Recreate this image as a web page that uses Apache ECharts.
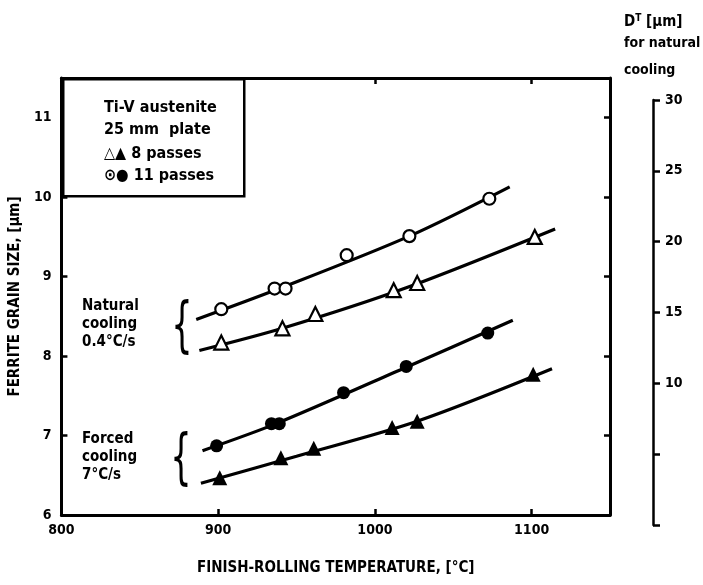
<!DOCTYPE html>
<html>
<head>
<meta charset="utf-8">
<script src="https://cdn.jsdelivr.net/npm/echarts@6/dist/echarts.min.js"></script>
<style>
html,body{margin:0;padding:0;background:#fff;}
#chart{width:703px;height:585px;}
</style>
</head>
<body>
<div id="chart"></div>
<script>
// ---- data ----
const xTicks = [800, 900, 1000, 1100];
const yTicks = [6, 7, 8, 9, 10, 11];
const dTicks = [10, 15, 20, 25, 30];

// Natural cooling, 11 passes (open circles)
const natural11Temp = [902, 936, 943, 982, 1022, 1073];
const natural11Size = [8.59, 8.85, 8.85, 9.27, 9.51, 9.98];
// Natural cooling, 8 passes (open triangles)
const natural8Temp = [902, 941, 962, 1012, 1027, 1102];
const natural8Size = [8.17, 8.35, 8.53, 8.83, 8.92, 9.50];
// Forced cooling, 11 passes (filled circles)
const forced11Temp = [899, 934, 939, 980, 1020, 1072];
const forced11Size = [6.87, 7.15, 7.15, 7.54, 7.87, 8.29];
// Forced cooling, 8 passes (filled triangles)
const forced8Temp = [901, 940, 961, 1011, 1027, 1101];
const forced8Size = [6.47, 6.72, 6.84, 7.10, 7.18, 7.77];

// fitted curves
const curveN11Temp = [886, 939, 1022, 1086];
const curveN11Size = [8.46, 8.85, 9.51, 10.13];
const curveN8Temp = [888, 941, 1020, 1115];
const curveN8Size = [8.07, 8.35, 8.86, 9.60];
const curveF11Temp = [890, 937, 1020, 1088];
const curveF11Size = [6.81, 7.15, 7.86, 8.45];
const curveF8Temp = [889, 950, 1027, 1113];
const curveF8Size = [6.40, 6.74, 7.18, 7.84];

const FONT = "'DejaVu Sans Condensed','DejaVu Sans',sans-serif";
const pairs = (xs, ys) => xs.map((x, i) => [x, ys[i]]);

function curve(xs, ys) {
  return {
    type: 'line', xAxisIndex: 0, yAxisIndex: 0, data: pairs(xs, ys),
    smooth: 0.3, showSymbol: false, symbol: 'none', silent: true,
    lineStyle: { color: '#000', width: 3.2 }, z: 2
  };
}
function marks(xs, ys, symbol, filled, size) {
  return {
    type: 'scatter', xAxisIndex: 0, yAxisIndex: 0, data: pairs(xs, ys),
    symbol: symbol, symbolSize: size,
    itemStyle: { color: filled ? '#000' : '#fff', borderColor: '#000', borderWidth: filled ? 0 : 2.2, opacity: 1 },
    z: 3
  };
}

const chart = echarts.init(document.getElementById('chart'), null, { renderer: 'canvas' });
const labelStyle = { color: '#000', fontFamily: FONT, fontWeight: 'bold', fontSize: 14 };

chart.setOption({
  animation: false,
  backgroundColor: '#fff',
  grid: [
    { left: 60, right: 93, top: 78, bottom: 70, show: false },
    { left: 603, width: 50, top: 100, bottom: 60, show: false }
  ],
  xAxis: [
    { type: 'value', gridIndex: 0, position: 'bottom', min: xTicks[0], max: 1150, interval: 100,
      axisLine: { show: true, onZero: false, lineStyle: { color: '#000', width: 3 } },
      axisTick: { show: true, inside: true, length: 6, lineStyle: { color: '#000', width: 2.5 } },
      axisLabel: Object.assign({ margin: 8, showMaxLabel: false, formatter: v => String(v) }, labelStyle),
      splitLine: { show: false },
      name: 'FINISH-ROLLING TEMPERATURE, [°C]', nameLocation: 'middle', nameGap: 46,
      nameTextStyle: { color: '#000', fontFamily: FONT, fontWeight: 'bold', fontSize: 15 } },
    { type: 'value', gridIndex: 0, position: 'top', min: xTicks[0], max: 1150, interval: 100,
      axisLine: { show: true, onZero: false, lineStyle: { color: '#000', width: 3 } },
      axisTick: { show: true, inside: true, length: 6, lineStyle: { color: '#000', width: 2.5 } },
      axisLabel: { show: false }, splitLine: { show: false } },
    { type: 'value', gridIndex: 1, show: false, min: 0, max: 1 }
  ],
  yAxis: [
    { type: 'value', gridIndex: 0, position: 'left', min: yTicks[0], max: 11.5, interval: 1,
      axisLine: { show: true, onZero: false, lineStyle: { color: '#000', width: 3 } },
      axisTick: { show: true, inside: true, length: 6, lineStyle: { color: '#000', width: 2.5 } },
      axisLabel: Object.assign({ margin: 10, showMaxLabel: false }, labelStyle),
      splitLine: { show: false },
      name: 'FERRITE GRAIN SIZE, [μm]', nameLocation: 'middle', nameGap: 33, nameRotate: 90,
      nameTextStyle: { color: '#000', fontFamily: FONT, fontWeight: 'bold', fontSize: 15 } },
    { type: 'value', gridIndex: 0, position: 'right', min: yTicks[0], max: 11.5, interval: 1,
      axisLine: { show: true, onZero: false, lineStyle: { color: '#000', width: 3 } },
      axisTick: { show: true, inside: true, length: 6, lineStyle: { color: '#000', width: 2.5 } },
      axisLabel: { show: false }, splitLine: { show: false } },
    { type: 'value', gridIndex: 1, position: 'right', min: 0, max: dTicks[dTicks.length - 1], interval: 5,
      axisLine: { show: true, onZero: false, lineStyle: { color: '#000', width: 2.5 } },
      axisTick: { show: true, inside: false, length: 7, lineStyle: { color: '#000', width: 2.5 } },
      axisLabel: Object.assign({ margin: 12, formatter: v => (dTicks.indexOf(v) >= 0 ? String(v) : '') }, labelStyle),
      splitLine: { show: false } }
  ],
  series: [
    curve(curveN11Temp, curveN11Size),
    curve(curveN8Temp, curveN8Size),
    curve(curveF11Temp, curveF11Size),
    curve(curveF8Temp, curveF8Size),
    marks(natural11Temp, natural11Size, 'circle', false, 12),
    marks(natural8Temp, natural8Size, 'triangle', false, 14),
    marks(forced11Temp, forced11Size, 'circle', true, 13),
    marks(forced8Temp, forced8Size, 'triangle', true, 15)
  ],
  graphic: [
    // legend box
    { type: 'rect', left: 62, top: 78, shape: { width: 181, height: 117 },
      style: { fill: '#fff', stroke: '#000', lineWidth: 2.5 }, z: 10 },
    { type: 'text', left: 104, top: 100, z: 11,
      style: { text: 'Ti-V austenite', font: "bold 16px " + FONT, fill: '#000' } },
    { type: 'text', left: 104, top: 122, z: 11,
      style: { text: '25 mm  plate', font: "bold 16px " + FONT, fill: '#000' } },
    { type: 'text', left: 104, top: 146, z: 11,
      style: { text: '△▲ 8 passes', font: "bold 16px " + FONT, fill: '#000' } },
    { type: 'text', left: 104, top: 168, z: 11,
      style: { text: '⊙● 11 passes', font: "bold 16px " + FONT, fill: '#000' } },
    // group labels
    { type: 'text', left: 82, top: 297, z: 11,
      style: { text: 'Natural\ncooling\n0.4°C/s', font: "bold 15px " + FONT, fill: '#000', lineHeight: 18 } },
    { type: 'text', left: 82, top: 430, z: 11,
      style: { text: 'Forced\ncooling\n7°C/s', font: "bold 15px " + FONT, fill: '#000', lineHeight: 18 } },
    // braces
    { type: 'text', x: 182, y: 329, scaleX: 0.8, scaleY: 1.45, z: 11,
      style: { text: '{', font: "42px 'DejaVu Sans',sans-serif", fill: '#000', align: 'center', verticalAlign: 'middle' } },
    { type: 'text', x: 181, y: 461, scaleX: 0.8, scaleY: 1.45, z: 11,
      style: { text: '{', font: "42px 'DejaVu Sans',sans-serif", fill: '#000', align: 'center', verticalAlign: 'middle' } },
    // secondary axis title
    { type: 'text', left: 624, top: 13, z: 11,
      style: { text: '{a|D}{b|T}{a| [μm]}', rich: {
        a: { font: "bold 15px " + FONT, fill: '#000', color: '#000' },
        b: { font: "bold 10px " + FONT, fill: '#000', color: '#000', verticalAlign: 'top', padding: [0, 0, 8, 0] } } } },
    { type: 'text', left: 624, top: 36, z: 11,
      style: { text: 'for natural', font: "bold 14px " + FONT, fill: '#000' } },
    { type: 'text', left: 624, top: 63, z: 11,
      style: { text: 'cooling', font: "bold 14px " + FONT, fill: '#000' } }
  ]
});
</script>
</body>
</html>
